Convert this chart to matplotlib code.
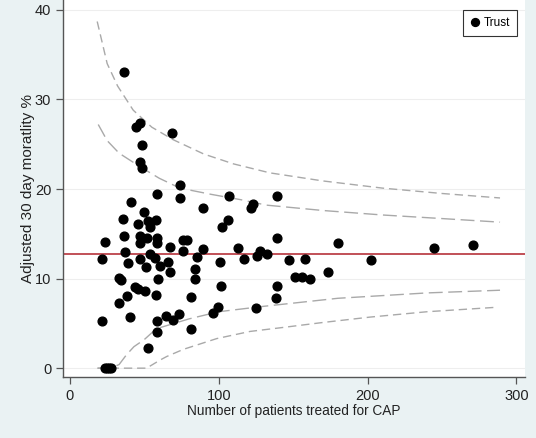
import matplotlib
matplotlib.use("Agg")
import matplotlib.pyplot as plt

plt.rcParams['font.family'] = ['Liberation Sans', 'DejaVu Sans']

# trust points: patients treated (x) and adjusted 30 day mortality % (y)
trust_n = [21.3, 21.3, 23.3, 23.7, 25, 26.2, 27.4, 33.1, 34.1, 33.1, 35.4, 36.3, 36.5,
           37.2, 38.1, 39.2, 40.3, 41.2, 43.7, 44.4, 45.9, 46.0, 47.0, 47.0, 47.0,
           47.0, 47.0, 48.4, 48.4, 50.0, 50.4, 51.3, 52.2, 52.4, 52.0, 53.8, 53.8,
           57.1, 57.6, 57.8, 58.2, 58.2, 58.5, 58.2, 58.5, 59.3, 60.5, 64.3, 66.1,
           67.2, 67.2, 68.3, 69.0, 73.3, 74.2, 74.2, 76.2, 78.4, 76.2, 81.3, 81.3,
           84.0, 84.0, 85.1, 89.2, 89.2, 96.3, 99.2, 101.0, 101.3, 102.2, 106.2,
           107.2, 113.1, 117.1, 121.4, 123.2, 125.0, 125.9, 127.7, 132.2, 138.9,
           138.9, 138.9, 138.2, 147.4, 151.0, 156.1, 158.1, 161.3, 173.2, 180.3,
           202.1, 244.8, 271.0]
trust_mort = [5.3, 12.2, 14.1, 0, 0, 0, 0, 10.1, 9.8, 7.3, 16.7, 33.1, 14.7,
              13.0, 8.1, 11.7, 5.7, 18.6, 9.1, 26.9, 8.8, 16.1, 27.4, 23.0, 14.7,
              14.0, 12.2, 24.9, 22.4, 17.4, 8.6, 11.3, 2.3, 16.4, 14.5, 15.8, 12.7,
              12.3, 8.2, 16.5, 19.4, 14.5, 14.0, 5.3, 4.0, 10.0, 11.4, 5.8, 11.9,
              13.5, 10.7, 26.3, 5.4, 6.0, 20.4, 19.0, 14.3, 14.3, 13.1, 7.9, 4.4,
              11.1, 10.0, 12.4, 17.9, 13.3, 6.2, 6.8, 11.9, 9.2, 15.8, 16.5,
              19.2, 13.4, 12.2, 17.9, 18.3, 6.7, 12.5, 13.1, 12.7, 19.2,
              14.5, 9.2, 7.8, 12.1, 10.2, 10.2, 12.2, 9.9, 10.7, 14.0,
              12.1, 13.4, 13.8]

overall_mean = 12.8

# funnel limits
outer_up_n = [18.3, 25, 32, 42.5, 55, 69.4, 90, 110, 134.4, 170, 210, 250, 289]
outer_up_y = [38.7, 34.0, 31.5, 28.8, 26.9, 25.5, 23.9, 22.8, 21.8, 20.9, 20.1, 19.5, 19.0]
inner_up_n = [19.0, 25, 33, 47, 60, 73.9, 95, 115, 132, 170, 210, 250, 289]
inner_up_y = [27.2, 25.4, 24.0, 22.5, 21.2, 20.1, 19.4, 18.8, 18.2, 17.6, 17.1, 16.7, 16.3]
inner_lo_n = [18.5, 27, 33, 38, 43, 50, 58, 70, 80, 100, 130, 180, 240, 289]
inner_lo_y = [0, 0, 0.4, 1.5, 2.4, 3.2, 4.4, 5.0, 5.5, 6.3, 6.9, 7.8, 8.4, 8.7]
outer_lo_n = [18.5, 30, 40, 51.5, 60.5, 65, 76.2, 87.4, 98.6, 121, 141, 170, 201.6, 240, 287]
outer_lo_y = [0, 0, 0, 0, 0.9, 1.3, 2.1, 2.7, 3.3, 4.1, 4.5, 5.1, 5.7, 6.3, 6.8]

x_ticks = [0, 100, 200, 300]
y_ticks = [0, 10, 20, 30, 40]

fig = plt.figure(figsize=(5.36, 4.38), dpi=100)
fig.patch.set_facecolor('#eaf2f3')
ax = fig.add_axes([0.1175, 0.139, 0.862, 0.861])
ax.set_facecolor('white')

for yt in y_ticks:
    ax.axhline(yt, color='#eeeeee', lw=0.8, zorder=0)

gray = '#a9a9a9'
ax.plot(outer_up_n, outer_up_y, color=gray, lw=1.0, dashes=(6, 3.5), zorder=1)
ax.plot(inner_up_n, inner_up_y, color=gray, lw=1.0, dashes=(10, 4), zorder=1)
ax.plot(inner_lo_n, inner_lo_y, color=gray, lw=1.0, dashes=(10, 4), zorder=1)
ax.plot(outer_lo_n, outer_lo_y, color=gray, lw=1.0, dashes=(6, 3.5), zorder=1)

ax.axhline(overall_mean, color='#b0202a', lw=1.1, zorder=2)

ax.plot(trust_n, trust_mort, 'o', color='black', markersize=6.3, label='Trust', zorder=3)

ax.set_xlim(-4.7, 305.8)
ax.set_ylim(-1.0, 41.1)
ax.set_xticks(x_ticks)
ax.set_yticks(y_ticks)
for s in ['top', 'right']:
    ax.spines[s].set_visible(False)
for s in ['left', 'bottom']:
    ax.spines[s].set_color('#555555')
    ax.spines[s].set_linewidth(1.0)
ax.tick_params(direction='out', length=5, width=0.9, color='#555555',
               labelsize=10.5, labelcolor='#222222')
ax.set_xlabel('Number of patients treated for CAP', fontsize=9.8, color='#222222', labelpad=1)
ax.set_ylabel('Adjusted 30 day moratlity %', fontsize=11, color='#222222', labelpad=0)

leg = ax.legend(loc='upper right', frameon=True, fancybox=False, fontsize=8.5,
                handletextpad=0.3, borderpad=0.6, handlelength=0.8,
                bbox_to_anchor=(0.995, 0.99), markerscale=0.9)
leg.get_frame().set_edgecolor('black')
leg.get_frame().set_linewidth(0.8)

plt.savefig('out.png', dpi=100, facecolor=fig.get_facecolor())
